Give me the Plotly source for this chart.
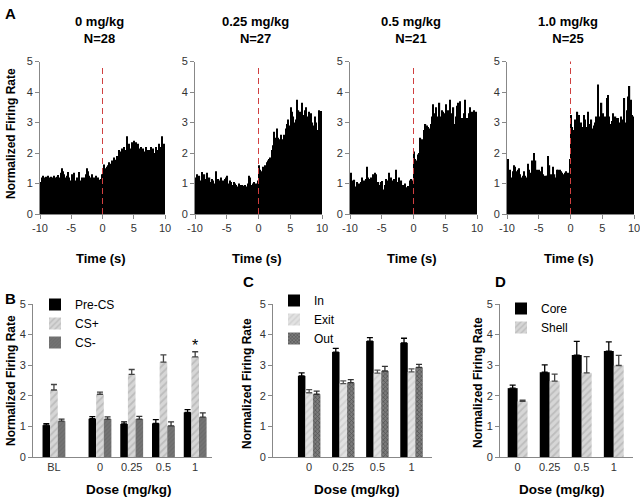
import numpy as np
import plotly.graph_objects as go

W, H = 640, 500
FONT = "Liberation Sans, Arial, sans-serif"

# ---------------- A: peri-event histograms, 0.2 s bins from -10 to 10 s
psth_titles = ["0 mg/kg", "0.25 mg/kg", "0.5 mg/kg", "1.0 mg/kg"]
psth_n = [28, 27, 21, 25]

rate_0 = [1.05, 1.2, 1.25, 1.2, 1.22, 1.18, 1.25, 1.2, 1.22, 1.2, 1.18, 1.25, 1.2, 1.22, 1.28, 1.2, 1.35, 1.5, 1.4, 1.3,
          1.2, 1.25, 1.38, 1.2, 1.1, 1.3, 1.12, 1.35, 1.1, 1.2, 1.15, 1.38, 1.1, 1.2, 1.15, 1.2, 1.3, 1.5, 1.4, 1.25,
          1.2, 1.3, 1.12, 1.2, 1.25, 1.15, 1.2, 1.12, 1.15, 1.3,
          1.45, 1.62, 1.5, 1.55, 1.6, 1.7, 1.65, 1.75, 1.72, 1.85, 1.78, 1.9, 1.85, 2.1, 2.05, 2.15, 2.0, 2.2, 2.1, 2.55,
          2.2, 2.3, 2.15, 2.35, 2.3, 2.4, 2.35, 2.2, 2.3, 2.15, 2.2, 2.1, 2.15, 2.05, 2.2, 2.1, 2.0, 2.1, 2.2, 2.05,
          2.15, 2.0, 2.2, 2.1, 2.05, 2.3, 2.2, 2.55, 2.05, 2.3]
rate_025 = [1.2, 1.3, 1.05, 1.25, 1.1, 1.38, 1.2, 1.3, 1.15, 1.35, 1.1, 1.2, 1.05, 1.15, 1.1, 1.0, 1.4, 1.05, 1.15, 1.1,
            1.2, 1.0, 1.1, 1.15, 1.2, 1.25, 1.0, 1.1, 1.05, 0.95, 1.05, 1.0, 0.95, 0.9, 1.0, 0.95, 0.9, 0.95, 0.92, 0.95,
            0.9, 1.0, 1.25, 1.2, 0.95, 1.0, 1.05, 0.9, 1.0, 1.1,
            1.6, 1.45, 1.4, 1.55, 1.5, 1.6, 1.7, 1.75, 1.8, 1.85, 2.1, 2.25, 2.7, 2.5, 2.8, 2.5, 2.45, 2.6, 2.4, 2.45,
            2.6, 2.8, 2.95, 3.1, 2.9, 3.5, 3.35, 3.2, 3.0, 3.1, 3.75, 3.4, 3.35, 3.3, 3.65, 3.25, 3.4, 3.5, 3.2, 3.35,
            3.15, 3.3, 3.0, 2.9, 3.2, 3.0, 2.75, 3.4, 3.35, 3.38]
rate_05 = [1.35, 1.1, 1.05, 1.12, 0.9, 1.05, 0.95, 1.0, 1.05, 1.2, 1.0, 1.1, 1.15, 1.55, 1.2, 1.15, 1.2, 1.1, 1.3, 1.35,
           1.3, 1.0, 1.05, 0.95, 1.05, 1.08, 0.8, 0.95, 1.15, 1.1, 1.35, 1.1, 1.2, 1.1, 1.15, 1.05, 1.45, 1.05, 1.2, 1.05,
           1.1, 0.95, 0.9, 1.0, 0.88, 0.92, 0.85, 1.1, 1.15, 1.1,
           2.05, 1.8, 1.75, 1.95, 2.0, 2.5, 2.45, 2.25, 2.75, 2.95, 2.9, 2.85, 2.8, 2.95, 3.2, 3.6, 3.3, 3.5, 3.2, 3.1,
           3.65, 3.2, 3.4, 3.35, 3.3, 3.6, 3.35, 3.4, 3.75, 3.2, 3.3, 3.5, 2.95, 3.2, 3.55, 3.65, 3.7, 3.1, 3.15, 3.3,
           3.75, 3.1, 3.15, 3.3, 3.5, 3.05, 3.35, 3.4, 3.3, 3.35]
rate_1 = [1.8, 1.1, 1.45, 1.2, 1.4, 1.6, 1.55, 1.4, 1.45, 1.5, 1.3, 1.2, 1.25, 1.4, 1.25, 1.2, 1.65, 1.45, 1.35, 1.75,
          1.55, 2.0, 1.75, 1.45, 1.4, 1.45, 1.4, 1.55, 1.3, 1.25, 1.25, 1.25, 1.9, 1.6, 1.3, 1.25, 1.55, 1.3, 1.2, 1.45,
          1.45, 1.45, 1.4, 1.35, 1.3, 1.35, 1.4, 1.3, 1.35, 1.8,
          3.25, 2.85, 2.75, 3.1, 3.0, 3.35, 3.25, 2.85, 3.0, 2.85, 3.25, 3.1, 2.85, 3.35, 2.95, 2.85, 3.1, 2.8, 2.9, 3.0,
          3.2, 4.25, 3.2, 3.0, 3.65, 3.3, 3.0, 3.2, 3.8, 3.9, 3.2, 2.95, 3.05, 3.3, 3.0, 3.2, 3.15, 3.15, 3.0, 3.2,
          2.95, 3.1, 3.8, 3.0, 3.4, 3.85, 4.2, 3.75, 3.25, 3.2]
psth_rates = [rate_0, rate_025, rate_05, rate_1]
onset_top = [4.8, 4.8, 4.8, 5.2]   # how far the red CS-onset line reaches

time_ticks = [-10, -5, 0, 5, 10]
time_labels = ["-10", "-5", "0", "5", "10"]
rate_ticks = [0, 1, 2, 3, 4, 5]

# ---------------- B: Pre-CS / CS+ / CS-
b_groups = ["BL", "0", "0.25", "0.5", "1"]
b_pos = [0, 1.45, 2.45, 3.45, 4.45]   # BL stands apart from the dose groups
pre_cs = [1.04, 1.25, 1.08, 1.10, 1.46]
pre_cs_err = [0.05, 0.07, 0.07, 0.12, 0.09]
cs_plus = [2.19, 2.05, 2.70, 3.10, 3.27]
cs_plus_err = [0.18, 0.07, 0.16, 0.24, 0.17]
cs_minus = [1.17, 1.24, 1.24, 1.02, 1.30]
cs_minus_err = [0.07, 0.07, 0.09, 0.13, 0.14]

# ---------------- C: In / Exit / Out
c_groups = ["0", "0.25", "0.5", "1"]
in_rate = [2.65, 3.43, 3.79, 3.73]
in_err = [0.10, 0.12, 0.11, 0.15]
exit_rate = [2.10, 2.40, 2.74, 2.78]
exit_err = [0.10, 0.09, 0.10, 0.10]
out_rate = [2.05, 2.43, 2.81, 2.93]
out_err = [0.10, 0.10, 0.15, 0.10]

# ---------------- D: Core / Shell
d_groups = ["0", "0.25", "0.5", "1"]
core = [2.25, 2.77, 3.33, 3.46]
core_err = [0.10, 0.24, 0.45, 0.30]
shell = [1.82, 2.48, 2.75, 2.99]
shell_err = [0.04, 0.23, 0.53, 0.33]


def px(x):
    return x / W


def py(y):
    return 1 - y / H


axis_style = dict(showline=True, linecolor="#888888", linewidth=1, showgrid=False, zeroline=False,
                  tickfont=dict(size=11, color="#333333", family=FONT), ticklen=4, tickcolor="#888888",
                  ticklabeloverflow="allow")

fig = go.Figure()
layout_axes = {}
annotations = []

# ---- A
t_bins = np.round(np.arange(100) * 0.2 - 9.9, 2)
a_x = [(40, 165), (195, 322), (350, 477), (507, 634)]
for i, rate in enumerate(psth_rates):
    k = i + 1
    fig.add_trace(go.Bar(x=t_bins, y=rate, width=0.2, marker=dict(color="black", line=dict(width=0)),
                         xaxis=f"x{k}", yaxis=f"y{k}", showlegend=False))
    layout_axes[f"xaxis{k}"] = dict(axis_style, domain=[px(a_x[i][0]), px(a_x[i][1])], range=[-10, 10],
                                    tickvals=time_ticks, ticktext=time_labels, ticks="outside",
                                    anchor=f"y{k}")
    layout_axes[f"yaxis{k}"] = dict(axis_style, domain=[py(214), py(61.5)], range=[0, 5], tickvals=rate_ticks,
                                    ticks="outside", anchor=f"x{k}")
    fig.add_shape(type="line", x0=0, x1=0, y0=0, y1=onset_top[i], xref=f"x{k}", yref=f"y{k}",
                  line=dict(color="#d04040", width=1, dash="6px,4px"), layer="above")
    cx = (a_x[i][0] + a_x[i][1]) / 2
    annotations.append(dict(text=f"<b>{psth_titles[i]}<br>N={psth_n[i]}</b>", x=px(cx - 3), y=py(30),
                            font=dict(size=13)))
    annotations.append(dict(text="<b>Time (s)</b>", x=px(cx - 2), y=py(258), font=dict(size=13)))

annotations.append(dict(text="<b>Normalized Firing Rate</b>", x=px(11), y=py(134), textangle=-90,
                        font=dict(size=12)))

# ---- B, C, D grouped bars
hatch_light = dict(shape="/", bgcolor="#d6d6d6", fgcolor="#a4a4a4", size=5, solidity=0.35, fillmode="overlay")
hatch_exit = dict(shape="/", bgcolor="#e2e2e2", fgcolor="#c0c0c0", size=5, solidity=0.35, fillmode="overlay")
dark_tex = dict(shape="/", bgcolor="#747474", fgcolor="#626262", size=3, solidity=0.4, fillmode="overlay")
checker = dict(shape="x", bgcolor="#7c7c7c", fgcolor="#2e2e2e", size=3, solidity=0.45, fillmode="overlay")

panels = [
    dict(k=5, pos=b_pos, labels=b_groups, xd=(33, 212), xr=[-0.66, 4.98], width=0.24, legend="legend",
         title_x=129,
         series=[("Pre-CS", pre_cs, pre_cs_err, dict(color="black"), "black"),
                 ("CS+", cs_plus, cs_plus_err, dict(color="#d6d6d6", pattern=hatch_light), "#444444"),
                 ("CS-", cs_minus, cs_minus_err, dict(color="#747474", pattern=dark_tex), "#333333")]),
    dict(k=6, pos=list(range(len(c_groups))), labels=c_groups, xd=(273, 432), xr=[-1.06, 3.6], width=0.22,
         legend="legend2", title_x=357,
         series=[("In", in_rate, in_err, dict(color="black"), "black"),
                 ("Exit", exit_rate, exit_err, dict(color="#e2e2e2", pattern=hatch_exit), "#555555"),
                 ("Out", out_rate, out_err, dict(color="#7c7c7c", pattern=checker), "#333333")]),
    dict(k=7, pos=list(range(len(d_groups))), labels=d_groups, xd=(500, 633), xr=[-0.55, 3.6], width=0.31,
         legend="legend3", title_x=562,
         series=[("Core", core, core_err, dict(color="black"), "black"),
                 ("Shell", shell, shell_err, dict(color="#d6d6d6", pattern=hatch_light), "#444444")]),
]

for p in panels:
    k = p["k"]
    n = len(p["series"])
    for j, (name, vals, errs, marker, ecol) in enumerate(p["series"]):
        fig.add_trace(go.Bar(
            x=p["pos"], y=vals, name=name, width=p["width"], offset=(j - n / 2) * p["width"],
            marker=dict(marker, line=dict(width=0)),
            error_y=dict(type="data", array=errs, arrayminus=[0] * len(errs), symmetric=False,
                         color=ecol, thickness=1.3, width=3),
            xaxis=f"x{k}", yaxis=f"y{k}", legend=p["legend"]))
    layout_axes[f"xaxis{k}"] = dict(axis_style, domain=[px(p["xd"][0]), px(p["xd"][1])], range=p["xr"],
                                    tickvals=p["pos"], ticktext=p["labels"], ticks="", anchor=f"y{k}")
    layout_axes[f"yaxis{k}"] = dict(axis_style, domain=[py(457), py(304)], range=[0, 5], tickvals=rate_ticks,
                                    ticks="outside", anchor=f"x{k}")
    annotations.append(dict(text="<b>Dose (mg/kg)</b>", x=px(p["title_x"]), y=py(489), font=dict(size=13.5)))

# significance star over CS+ at 1 mg/kg
annotations.append(dict(text="*", x=b_pos[4], y=cs_plus[4] + cs_plus_err[4] + 0.22, xref="x5", yref="y5",
                        font=dict(size=16)))

for xx, yy in [(11, 381), (247, 384), (478, 383)]:
    annotations.append(dict(text="<b>Normalized Firing Rate</b>", x=px(xx), y=py(yy), textangle=-90,
                            font=dict(size=12)))

for letter, xx, yy in [("A", 10, 13), ("B", 10, 298), ("C", 248, 281), ("D", 500, 281)]:
    annotations.append(dict(text=f"<b>{letter}</b>", x=px(xx), y=py(yy), font=dict(size=15)))

for a in annotations:
    a.setdefault("xref", "paper")
    a.setdefault("yref", "paper")
    a.setdefault("showarrow", False)
    a.setdefault("xanchor", "center")
    a.setdefault("yanchor", "middle")
    a["font"] = dict(family=FONT, color="black", **a["font"])

legend_style = dict(xanchor="left", yanchor="top", bgcolor="rgba(0,0,0,0)", tracegroupgap=0,
                    font=dict(family=FONT, size=12, color="black"), itemclick=False)

fig.update_layout(
    width=W, height=H, margin=dict(l=0, r=0, t=0, b=0, autoexpand=False),
    paper_bgcolor="white", plot_bgcolor="white",
    barmode="overlay", annotations=annotations,
    legend=dict(legend_style, x=px(35), y=py(290)),
    legend2=dict(legend_style, x=px(274), y=py(286)),
    legend3=dict(legend_style, x=px(501), y=py(294)),
    font=dict(family=FONT),
    **layout_axes,
)

# the page's default body margin would shift the 640x500 figure off the window
fig.write_html("out.html", config={"displayModeBar": False},
               post_script="document.body.style.margin='0';document.body.style.overflow='hidden';")
